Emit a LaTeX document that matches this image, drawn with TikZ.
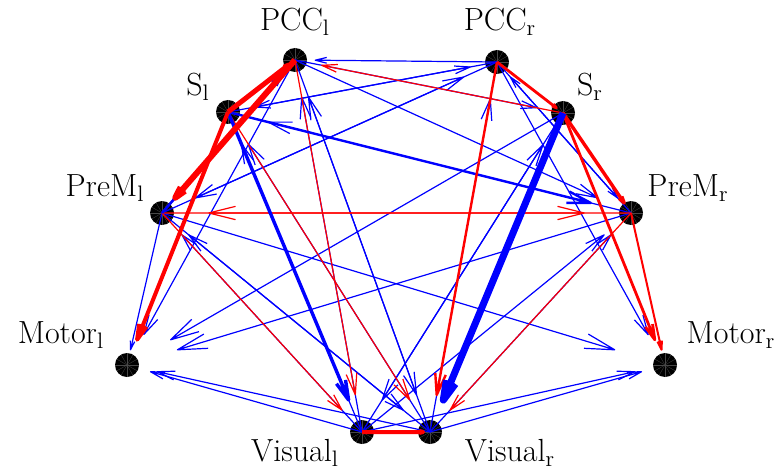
\documentclass[tikz,border=0pt]{standalone}
\usepackage{tikz}
\usetikzlibrary{calc}
\tikzset{
  roi/.style = {circle, fill=black, inner sep=0pt, minimum size=12pt,
                path picture={\foreach \a in {0,30,...,330}
                  \draw[black!72, line width=0.15pt] (path picture bounding box.center) -- ++(\a:6pt);}},
  lbl/.style = {inner sep=0pt, font=\fontsize{16}{19}\selectfont},
  bl/.style  = {draw=blue, line width=0.6pt},
  rd/.style  = {draw=red, line width=0.6pt},
}
\newcommand{\link}[3][]{%
  \coordinate (tip) at ($(#2.center)!0.9!(#3.center)$);
  \draw[line join=round, #1] (#2.center) -- (tip) -- ($(tip)!0.065!14:(#2.center)$)
    (tip) -- ($(tip)!0.065!-14:(#2.center)$);}

\begin{document}
\begin{tikzpicture}[x=0.5pt, y=-0.5pt]
  \useasboundingbox (0,0) rectangle (779,470);
  \node[roi] (pccl)  at (295,60)  {};
  \node[roi] (pccr)  at (497,62)  {};
  \node[roi] (sl)    at (228,112) {};
  \node[roi] (sr)    at (563,113) {};
  \node[roi] (preml) at (162,213) {};
  \node[roi] (premr) at (631,213) {};
  \node[roi] (motl)  at (127,365) {};
  \node[roi] (motr)  at (665,365) {};
  \node[roi] (visl)  at (362,432) {};
  \node[roi] (visr)  at (430,432) {};

  \node[lbl] (pccl-t)  at (295,22)  {PCC\textsubscript{l}};
  \node[lbl] (pccr-t)  at (500,22)  {PCC\textsubscript{r}};
  \node[lbl] (sl-t)    at (198,87)  {S\textsubscript{l}};
  \node[lbl] (sr-t)    at (590,87)  {S\textsubscript{r}};
  \node[lbl] (preml-t) at (105,188) {PreM\textsubscript{l}};
  \node[lbl] (premr-t) at (688,188) {PreM\textsubscript{r}};
  \node[lbl] (motl-t)  at (61,335)  {Motor\textsubscript{l}};
  \node[lbl] (motr-t)  at (731,335) {Motor\textsubscript{r}};
  \node[lbl] (visl-t)  at (295,453) {Visual\textsubscript{l}};
  \node[lbl] (visr-t)  at (510,453) {Visual\textsubscript{r}};

  % weak links
  \foreach \s/\t in {pccl/motl, pccl/visr, pccl/premr, pccl/sr, pccl/preml,
      pccr/pccl, pccr/sl, pccr/preml, pccr/premr, pccr/motr, sl/pccr,
      sr/motl, sr/visl, preml/pccr, preml/motl, preml/motr, preml/visr,
      premr/pccr, premr/sl, premr/motl,
      visl/pccl, visl/sl, visl/sr, visl/preml, visl/premr, visl/motl, visl/motr,
      visr/pccl, visr/pccr, visr/sl, visr/preml, visr/premr, visr/motl, visr/motr}
    \link[bl]{\s}{\t};
  \foreach \s/\t in {sr/pccl, preml/premr, premr/preml, pccl/visl,
      preml/visl, sl/visr, premr/visr}
    \link[rd]{\s}{\t};

  % strong links
  \link[bl, line width=1.3pt]{preml}{pccl}
  \link[bl, line width=1.2pt]{sl}{premr}
  \link[bl, line width=1.7pt]{sl}{visl}
  \link[rd, line width=1pt]{premr}{motr}
  \link[rd, line width=1.2pt]{pccr}{visr}
  \link[rd, line width=1.4pt]{pccr}{sr}
  \link[rd, line width=1.4pt]{sr}{motr}
  \link[rd, line width=1.7pt]{sr}{premr}
  \link[rd, line width=2pt]{sl}{motl}
  \link[rd, line width=2pt]{visl}{visr}
  \link[rd, line width=2.5pt]{sl}{pccl}
  \link[rd, line width=3pt]{pccl}{preml}
  \link[bl, line width=3.5pt]{sr}{visr}
\end{tikzpicture}
\end{document}
